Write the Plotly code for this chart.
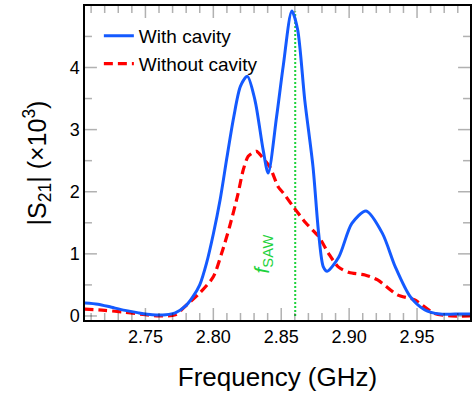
import plotly.graph_objects as go

# With cavity
freq_with = [2.705, 2.715, 2.725, 2.735, 2.745, 2.755, 2.765, 2.772, 2.78, 2.785,
             2.79, 2.795, 2.80, 2.805, 2.81, 2.815, 2.82, 2.825, 2.8306, 2.8367,
             2.8404, 2.8466, 2.8515, 2.8578, 2.862, 2.8673, 2.8734, 2.8775, 2.881,
             2.8838, 2.8924, 2.902, 2.9125, 2.9245, 2.934, 2.945, 2.9555, 2.967,
             2.978, 2.99]
s21_with = [0.21, 0.19, 0.14, 0.09, 0.05, 0.02, 0.02, 0.05, 0.17, 0.31,
            0.5, 0.85, 1.32, 1.87, 2.55, 3.2, 3.7, 3.86, 3.48, 2.67,
            2.30, 3.21, 4.03, 4.91, 4.62, 3.48, 2.40, 1.34, 0.79,
            0.72, 0.95, 1.49, 1.69, 1.33, 0.79, 0.31, 0.10, 0.03,
            0.03, 0.03]

# Without cavity
freq_without = [2.705, 2.72, 2.735, 2.75, 2.76, 2.772, 2.7805, 2.79, 2.80, 2.806,
                2.812, 2.818, 2.822, 2.8257, 2.8318, 2.8355, 2.8416, 2.8477, 2.8515,
                2.8588, 2.868, 2.8775, 2.885, 2.892, 2.90, 2.9117, 2.921, 2.9355,
                2.948, 2.963, 2.975, 2.99]
s21_without = [0.11, 0.09, 0.06, 0.02, 0.0, 0.02, 0.18, 0.37, 0.63, 1.0,
               1.44, 1.95, 2.35, 2.57, 2.65, 2.57, 2.40, 2.08, 1.98,
               1.76, 1.50, 1.28, 1.0, 0.79, 0.70, 0.66, 0.58, 0.34,
               0.26, 0.04, 0.0, 0.0]

f_saw = 2.8603
f_saw_span = [0.0, 4.9]

x_ticks = [2.75, 2.80, 2.85, 2.90, 2.95]
x_tick_labels = ["2.75", "2.80", "2.85", "2.90", "2.95"]
x_minor_ticks = [round(2.71 + 0.01 * i, 2) for i in range(28)]
y_ticks = [0, 1, 2, 3, 4]
y_minor_ticks = [0.5, 1.5, 2.5, 3.5, 4.5]

FONT = "Liberation Sans, Arial, Helvetica, sans-serif"
BLUE = "rgb(20,90,255)"
RED = "rgb(255,0,0)"
GREEN = "rgb(30,210,60)"

X_RANGE = [2.7055, 2.989]
Y_RANGE = [-0.065, 4.99]
W, H = 473, 396
M = dict(l=85, r=1, t=6, b=76)
PLOT_W = W - M["l"] - M["r"]
PLOT_H = H - M["t"] - M["b"]
MAJOR_LEN, MINOR_LEN = 12, 7

fig = go.Figure()
fig.add_trace(go.Scatter(x=[f_saw, f_saw], y=f_saw_span, mode="lines",
                         line=dict(color=GREEN, width=2, dash="2px,2px"),
                         showlegend=False, hoverinfo="skip"))
fig.add_trace(go.Scatter(x=freq_without, y=s21_without, mode="lines",
                         name="Without cavity",
                         line=dict(color=RED, width=3.2, dash="9px,5px", shape="spline", smoothing=0.7)))
fig.add_trace(go.Scatter(x=freq_with, y=s21_with, mode="lines",
                         name="With cavity",
                         line=dict(color=BLUE, width=3, shape="spline", smoothing=0.8)))

fig.add_annotation(x=2.8363, y=1.0, xref="x", yref="y",
                   text="<i>f</i><sub>SAW</sub>", textangle=-90, showarrow=False,
                   font=dict(family=FONT, size=21, color=GREEN))

# inward tick marks on all four sides, placed at the axis tick values
tick_line = dict(color="black", width=1.5)
shapes = []
for vals, length in ((x_ticks, MAJOR_LEN), ([v for v in x_minor_ticks if v not in x_ticks], MINOR_LEN)):
    f = length / PLOT_H
    for v in vals:
        shapes.append(dict(type="line", xref="x", yref="y domain", x0=v, x1=v, y0=0, y1=f,
                           line=tick_line, layer="above"))
        shapes.append(dict(type="line", xref="x", yref="y domain", x0=v, x1=v, y0=1, y1=1 - f,
                           line=tick_line, layer="above"))
for vals, length in ((y_ticks, MAJOR_LEN), (y_minor_ticks, MINOR_LEN)):
    f = length / PLOT_W
    for v in vals:
        shapes.append(dict(type="line", xref="x domain", yref="y", x0=0, x1=f, y0=v, y1=v,
                           line=tick_line, layer="above"))
        shapes.append(dict(type="line", xref="x domain", yref="y", x0=1, x1=1 - f, y0=v, y1=v,
                           line=tick_line, layer="above"))

fig.update_xaxes(range=X_RANGE, tickmode="array", tickvals=x_ticks, ticktext=x_tick_labels,
                 showline=True, linecolor="black", linewidth=1.5, mirror=True,
                 ticks="", showgrid=False, zeroline=False,
                 tickfont=dict(family=FONT, size=18, color="black"),
                 title=dict(text="Frequency (GHz)", font=dict(family=FONT, size=26, color="black"),
                            standoff=21))
fig.update_yaxes(range=Y_RANGE, tickmode="array", tickvals=y_ticks,
                 showline=True, linecolor="black", linewidth=1.5, mirror=True,
                 ticks="", showgrid=False, zeroline=False,
                 tickfont=dict(family=FONT, size=18, color="black"),
                 title=dict(text="|S<sub>21</sub>| (×10<sup>3</sup>)",
                            font=dict(family=FONT, size=25, color="black"), standoff=16))

fig.update_layout(
    template="simple_white",
    width=W, height=H,
    margin=M,
    shapes=shapes,
    font=dict(family=FONT, color="black"),
    legend=dict(x=0.036, y=0.965, xanchor="left", yanchor="top",
                bgcolor="rgba(0,0,0,0)", font=dict(family=FONT, size=19, color="black"),
                traceorder="reversed", tracegroupgap=0, itemwidth=30),
)

fig.write_html("out.html", post_script="document.body.style.margin='0';",
               config={"displayModeBar": False})
